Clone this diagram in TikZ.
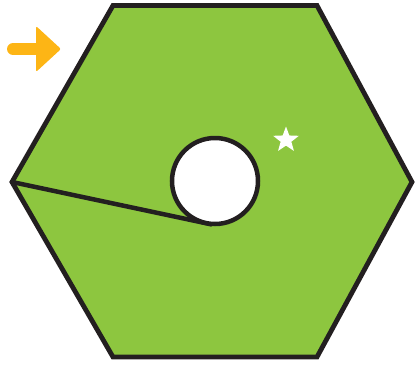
\documentclass[tikz,border=0pt]{standalone}
\usetikzlibrary{shapes.geometric}
\definecolor{hexgreen}{HTML}{8DC63F}
\definecolor{darkline}{HTML}{231F20}
\definecolor{arroworange}{HTML}{FDB515}
\begin{document}
\begin{tikzpicture}[x=1pt,y=-1pt,
  outline/.style={draw=darkline,line width=4.8pt,line join=miter},
  starshape/.style={star,star points=5,star point ratio=2.4,fill=white,minimum size=27pt,inner sep=0pt}]
\useasboundingbox (0,0) rectangle (416,365);
\coordinate (v1) at (113,5.5);
\coordinate (v2) at (317,5.5);
\coordinate (v3) at (412,182);
\coordinate (v4) at (317,357);
\coordinate (v5) at (113,357);
\coordinate (v6) at (12,182);
\fill[hexgreen] (v1) -- (v2) -- (v3) -- (v4) -- (v5) -- (v6) -- cycle;
\coordinate (cb) at (212,224.5);
\draw[darkline,line width=4.5pt] (v6) -- (cb);
\node[circle,fill=white,draw=darkline,line width=4.5pt,minimum size=86pt,inner sep=0pt] (hole) at (215,181) {};
\draw[outline] (v1) -- (v2) -- (v3) -- (v4) -- (v5) -- (v6) -- cycle;
\node[starshape] (st) at (286,140) {};
% arrow
\draw[arroworange,line width=12pt,line cap=round] (13,49) -- (42,49);
\fill[arroworange,rounded corners=2pt] (36,26) -- (61,49) -- (36,72) -- cycle;
\end{tikzpicture}
\end{document}
